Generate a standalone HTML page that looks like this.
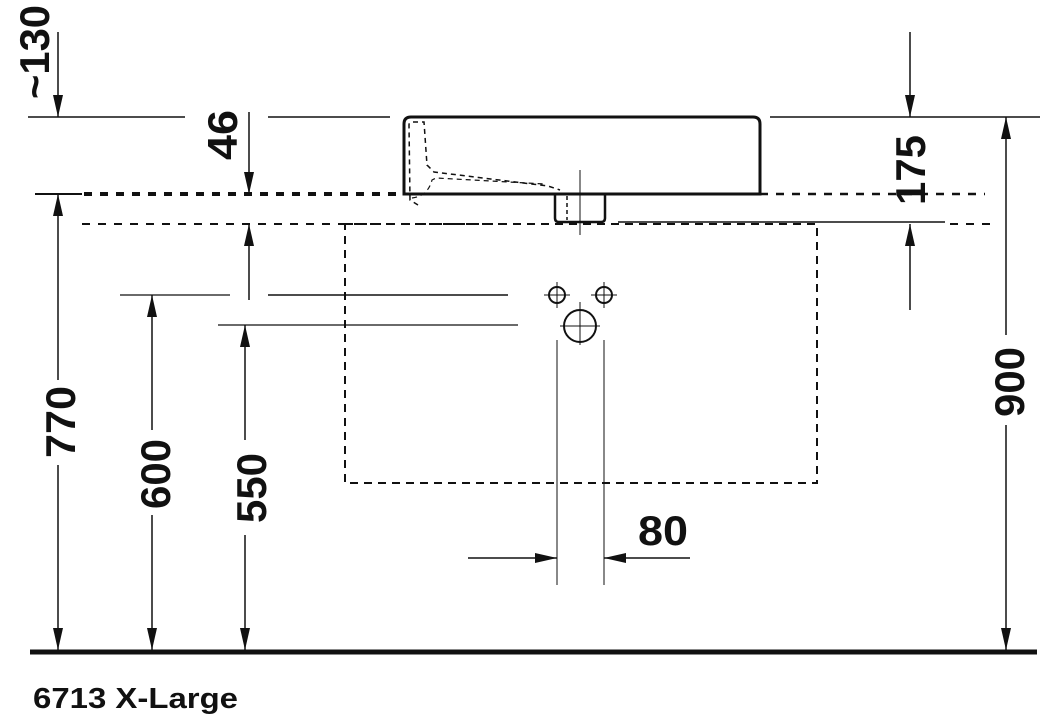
<!DOCTYPE html>
<html><head><meta charset="utf-8"><style>html,body{margin:0;padding:0;background:#fff;}svg{display:block}</style></head>
<body>
<svg width="1042" height="721" viewBox="0 0 1042 721" xmlns="http://www.w3.org/2000/svg" font-family="Liberation Sans, sans-serif">
<defs>
<marker id="a" viewBox="0 0 22 10" refX="22" refY="5" markerWidth="22" markerHeight="10" markerUnits="userSpaceOnUse" orient="auto"><path d="M0 0 L22 5 L0 10 Z" fill="#111"/></marker>
</defs>
<g stroke="#111" fill="none">
<line x1="28" y1="117" x2="185" y2="117" stroke-width="1.5"/>
<line x1="268" y1="117" x2="390" y2="117" stroke-width="1.5"/>
<line x1="770" y1="117" x2="1040" y2="117" stroke-width="1.5"/>
<path d="M404 194 L404 124 Q404 117 411 117 L753 117 Q760 117 760 124 L760 194 Z" stroke-width="3"/>
<line x1="35" y1="194" x2="82" y2="194" stroke-width="2"/>
<line x1="84" y1="194" x2="404" y2="194" stroke-width="4" stroke-dasharray="8 8"/>
<line x1="760" y1="194" x2="985" y2="194" stroke-width="2.5" stroke-dasharray="8 8"/>
<path d="M418 205 L410 200 L409 125 Q409 122 413 122 L424 122 L427 165 L434 172 L548 186 L560 190" stroke-width="1.5" stroke-dasharray="5 4"/>
<path d="M412 198 Q428 196 432 180 L436 178 L545 184" stroke-width="1.2" stroke-dasharray="5 4"/>
<path d="M555 194 L555 218 Q555 222 559 222 L601 222 Q605 222 605 218 L605 194" stroke-width="2.5"/>
<line x1="567" y1="196" x2="567" y2="220" stroke-width="1.5" stroke-dasharray="4 3"/>
<line x1="580" y1="170" x2="580" y2="235" stroke-width="1"/>
<line x1="82" y1="224" x2="520" y2="224" stroke-width="2" stroke-dasharray="8 8"/>
<line x1="618" y1="222" x2="945" y2="222" stroke-width="1.5"/>
<line x1="950" y1="224" x2="990" y2="224" stroke-width="2" stroke-dasharray="8 8"/>
<rect x="345" y="224" width="472" height="259" stroke-width="2" stroke-dasharray="8 6"/>
<circle cx="557" cy="295" r="8" stroke-width="2"/>
<circle cx="604" cy="295" r="8" stroke-width="2"/>
<circle cx="580" cy="326" r="16" stroke-width="2"/>
<g stroke-width="1">
<line x1="544" y1="295" x2="570" y2="295"/><line x1="557" y1="282" x2="557" y2="308"/>
<line x1="591" y1="295" x2="617" y2="295"/><line x1="604" y1="282" x2="604" y2="308"/>
<line x1="560" y1="326" x2="600" y2="326"/><line x1="580" y1="302" x2="580" y2="345"/>
<line x1="557" y1="340" x2="557" y2="585"/><line x1="604" y1="340" x2="604" y2="585"/>
</g>
<line x1="120" y1="295" x2="230" y2="295" stroke-width="1.2"/>
<line x1="268" y1="295" x2="508" y2="295" stroke-width="1.5"/>
<line x1="218" y1="325" x2="518" y2="325" stroke-width="1.2"/>
<line x1="30" y1="652" x2="1037" y2="652" stroke-width="5"/>
<g stroke-width="1.5">
<line x1="58" y1="32" x2="58" y2="117" marker-end="url(#a)"/>
<line x1="249" y1="112" x2="249" y2="194" marker-end="url(#a)"/>
<line x1="249" y1="300" x2="249" y2="224" marker-end="url(#a)"/>
<line x1="910" y1="32" x2="910" y2="117" marker-end="url(#a)"/>
<line x1="910" y1="310" x2="910" y2="224" marker-end="url(#a)"/>
<line x1="58" y1="380" x2="58" y2="194" marker-end="url(#a)"/>
<line x1="58" y1="465" x2="58" y2="650" marker-end="url(#a)"/>
<line x1="152" y1="430" x2="152" y2="295" marker-end="url(#a)"/>
<line x1="152" y1="515" x2="152" y2="650" marker-end="url(#a)"/>
<line x1="245" y1="440" x2="245" y2="325" marker-end="url(#a)"/>
<line x1="245" y1="535" x2="245" y2="650" marker-end="url(#a)"/>
<line x1="1006" y1="335" x2="1006" y2="117" marker-end="url(#a)"/>
<line x1="1006" y1="425" x2="1006" y2="650" marker-end="url(#a)"/>
<line x1="468" y1="558" x2="557" y2="558" marker-end="url(#a)"/>
<line x1="690" y1="558" x2="604" y2="558" marker-end="url(#a)"/>
</g>
</g>
<g fill="#111" font-weight="bold" font-size="42">
<text transform="translate(49,52) rotate(-90)" text-anchor="middle" textLength="94" lengthAdjust="spacingAndGlyphs">~130</text>
<text transform="translate(237,135) rotate(-90)" text-anchor="middle" textLength="50" lengthAdjust="spacingAndGlyphs">46</text>
<text transform="translate(75,422) rotate(-90)" text-anchor="middle" textLength="72" lengthAdjust="spacingAndGlyphs">770</text>
<text transform="translate(170,474) rotate(-90)" text-anchor="middle" textLength="70" lengthAdjust="spacingAndGlyphs">600</text>
<text transform="translate(266,488) rotate(-90)" text-anchor="middle" textLength="70" lengthAdjust="spacingAndGlyphs">550</text>
<text transform="translate(925,170) rotate(-90)" text-anchor="middle" textLength="70" lengthAdjust="spacingAndGlyphs">175</text>
<text transform="translate(1024,382) rotate(-90)" text-anchor="middle" textLength="70" lengthAdjust="spacingAndGlyphs">900</text>
<text x="638" y="545" textLength="50" lengthAdjust="spacingAndGlyphs">80</text>
</g>
<text x="33" y="708" font-size="29" font-weight="bold" fill="#111" textLength="205" lengthAdjust="spacingAndGlyphs">6713 X-Large</text>
</svg>
</body></html>
